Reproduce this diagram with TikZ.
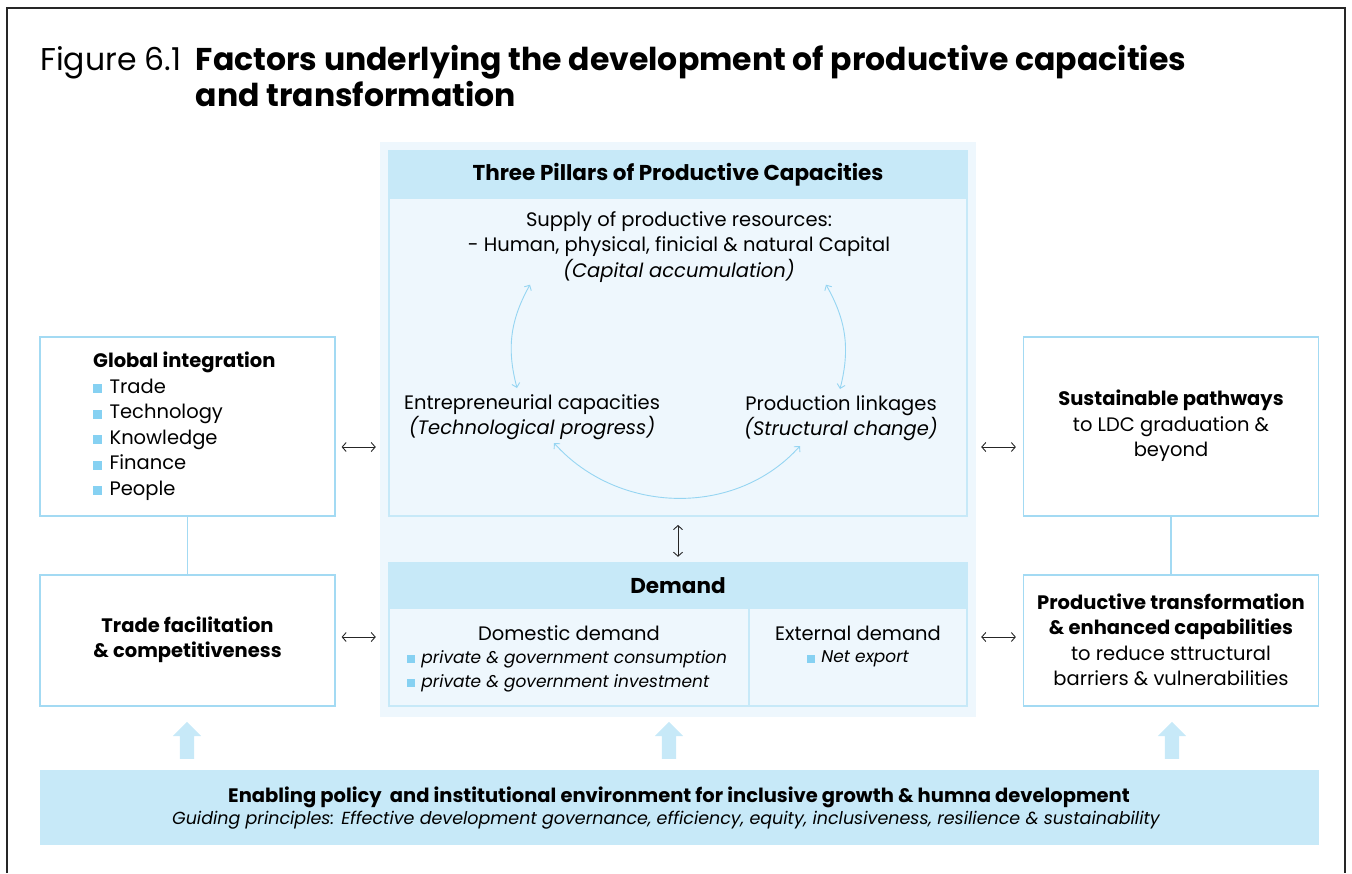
\documentclass[tikz,border=0pt]{standalone}
\usepackage{fontspec}
\setmainfont{Poppins}
\usepackage{xcolor}
\usepackage{tikz}
\usetikzlibrary{arrows.meta,positioning,shapes.arrows}
\definecolor{edgeblue}{HTML}{A3DAF3}
\definecolor{headblue}{HTML}{C7E9F8}
\definecolor{paleblue}{HTML}{EEF7FD}
\definecolor{dotblue}{HTML}{86D1F2}
\definecolor{arcblue}{HTML}{96D5F2}
\newcommand{\sqb}{\textcolor{dotblue}{\rule{0.46em}{0.46em}}\hspace{0.38em}}

\begin{document}
\begin{tikzpicture}[
          x=1pt, y=-1pt,
          font=\fontsize{19.5}{25.5}\selectfont,
          link/.style={{Straight Barb[length=4pt,width=9pt]}-{Straight Barb[length=4pt,width=9pt]}, line width=0.9pt, black!85},
          loop/.style={{Straight Barb[length=4pt,width=8pt]}-{Straight Barb[length=4pt,width=8pt]}, line width=0.9pt, arcblue},
          sidebox/.style={draw=edgeblue, line width=1.2pt, fill=white, minimum width=295pt, inner sep=0pt},
          head/.style={fill=headblue, minimum width=578pt, inner sep=0pt, font=\fontsize{21.5}{25}\selectfont\bfseries},
          body/.style={draw=headblue, line width=2pt, fill=paleblue, minimum width=578pt, inner sep=0pt},
          txt/.style={inner sep=0pt, align=center},
          small/.style={inner sep=0pt, align=center, font=\fontsize{17}{24}\selectfont\itshape},
          uparrow/.style={single arrow, shape border rotate=90, fill=headblue, inner sep=7pt, single arrow head extend=7pt, minimum height=37pt}
        ]
          \useasboundingbox (0,0) rectangle (1352,873);
          \draw[black!85, line width=1.5pt] (7,873) -- (7,8) -- (1345,8) -- (1345,873);

          % title
          \node[anchor=base west, inner sep=0pt, align=left, font=\fontsize{31.5}{36}\selectfont] (title) at (40,106)
            {Figure 6.1\hspace{0.45em}\textbf{Factors underlying the development of productive capacities}\\
             \phantom{Figure 6.1}\hspace{0.45em}\textbf{and transformation}};

          % central panel
          \node[fill=paleblue, minimum width=596pt, minimum height=575pt, inner sep=0pt] (panel) at (678,429.5) {};
          \node[body, minimum height=365pt] (pillars) at (678,333.5) {};
          \node[head, minimum height=48pt] (pillarhead) at (678,175) {Three Pillars of Productive Capacities};
          \node[body, minimum height=143pt] (demand) at (678,634.5) {};
          \node[head, minimum height=46pt] (demandhead) at (678,586) {Demand};
          \draw[headblue, line width=2pt] (749,609) -- (demand.south -| 749,0);

          \node[txt] (supply) at (679,247) {Supply of productive resources:\\- Human, physical, finicial \& natural Capital\\\textit{(Capital accumulation)}};
          \node[txt] (entre) at (532,417) {Entrepreneurial capacities\\\textit{(Technological progress)}};
          \node[txt] (links) at (841,418) {Production linkages\\\textit{(Structural change)}};

          \draw[loop] ([xshift=-149pt,yshift=-2pt]supply.south) to[bend right=22] ([xshift=-15pt,yshift=6pt]entre.north);
          \draw[loop] ([xshift=147pt,yshift=-2pt]supply.south) to[bend left=22] ([xshift=-1pt,yshift=6pt]links.north);
          \draw[loop] ([xshift=22pt,yshift=-3pt]entre.south) to[out=-48, in=-132] ([xshift=-41pt,yshift=-5pt]links.south);

          \node[txt] (domestic) at (569,633) {Domestic demand};
          \node[small, align=left, anchor=west] (domlist) at (407,671) {\sqb private \& government consumption\\\sqb private \& government investment};
          \node[txt] (external) at (858,633) {External demand};
          \node[small] (extlist) at (858,659) {\sqb Net export};

          \draw[link] ([yshift=-8pt]pillars.south) -- ([yshift=6pt]demandhead.north);

          % side boxes
          \node[sidebox, minimum height=179pt] (global) at (187.5,426.5) {};
          \node[inner sep=0pt, align=left, anchor=west] (globaltxt) at (93,426)
            {\textbf{Global integration}\\\sqb Trade\\\sqb Technology\\\sqb Knowledge\\\sqb Finance\\\sqb People};
          \node[sidebox, minimum height=131pt] (trade) at (187.5,640.5) {};
          \node[txt, font=\fontsize{19.5}{25.5}\selectfont\bfseries] (tradetxt) at (187.5,640) {Trade facilitation\\\& competitiveness};

          \node[sidebox, minimum height=179pt] (paths) at (1171,426.5) {};
          \node[txt] (pathstxt) at (1171,426) {\textbf{Sustainable pathways}\\to LDC graduation \&\\beyond};
          \node[sidebox, minimum height=131pt] (transf) at (1171,640.5) {};
          \node[txt] (transftxt) at (1171,640) {\textbf{Productive transformation}\\\textbf{\& enhanced capabilities}\\to reduce sttructural\\barriers \& vulnerabilities};

          \draw[edgeblue, line width=1.2pt] (global) -- (trade);
          \draw[edgeblue, line width=1.2pt] (paths) -- (transf);

          \draw[link, shorten <=6pt, shorten >=4pt] ([yshift=-20.5pt]global.east) -- ([yshift=-20.5pt]global.east -| panel.west);
          \draw[link, shorten <=6pt, shorten >=4pt] ([yshift=3.5pt]trade.east) -- ([yshift=3.5pt]trade.east -| panel.west);
          \draw[link, shorten <=5pt, shorten >=7pt] ([yshift=-20.5pt]paths.west -| panel.east) -- ([yshift=-20.5pt]paths.west);
          \draw[link, shorten <=5pt, shorten >=7pt] ([yshift=3.5pt]transf.west -| panel.east) -- ([yshift=3.5pt]transf.west);

          % enabling environment
          \node[fill=headblue, minimum width=1279pt, minimum height=75pt, inner sep=0pt] (enabling) at (679.5,807.5) {};
          \node[txt, font=\fontsize{19.5}{22}\selectfont\bfseries] (enabtitle) at (679,797) {Enabling policy\ \ and institutional environment for inclusive growth \& humna development};
          \node[small, font=\fontsize{17.5}{20}\selectfont\itshape] (enabsub) at (666,820) {Guiding principles: Effective development governance, efficiency, equity, inclusiveness, resilience \& sustainability};

          \node[uparrow] (up1) at (187,744) {};
          \node[uparrow] (up2) at (669,744) {};
          \node[uparrow] (up3) at (1172,744) {};
        \end{tikzpicture}
\end{document}
